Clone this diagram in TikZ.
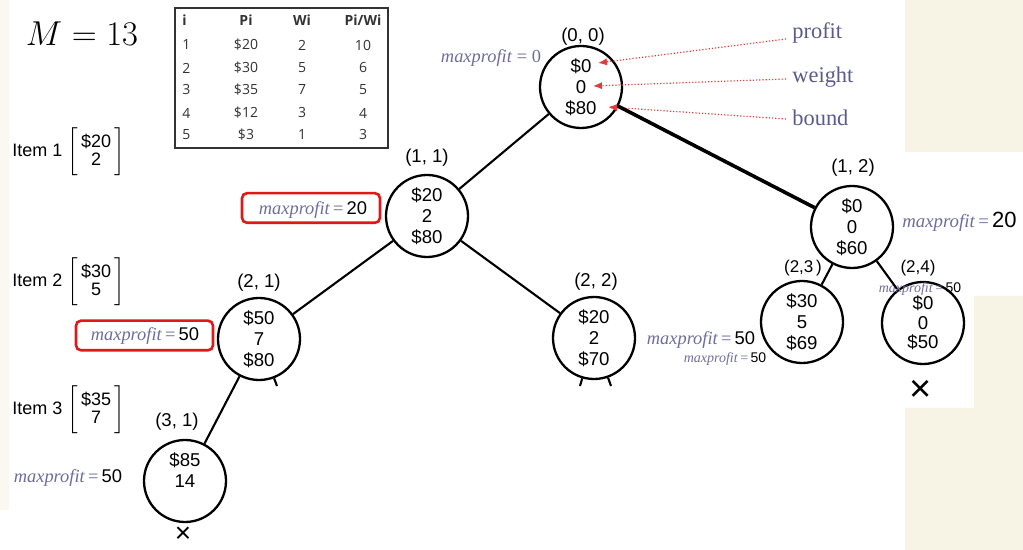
\documentclass[tikz,border=0pt]{standalone}
\usepackage{fontspec}
\setmainfont{Liberation Serif}
\newfontfamily\sansf{Liberation Sans}
\newfontfamily\tabf{Open Sans}
\usetikzlibrary{arrows.meta}
\definecolor{cream}{HTML}{F7F4E6}
\definecolor{mpcol}{HTML}{6E6E9E}
\definecolor{annc}{HTML}{5A5A8C}
\definecolor{redar}{HTML}{E23B3B}
\definecolor{boxred}{HTML}{E01818}
\definecolor{tabtxt}{HTML}{333333}
\newcommand\mxp[1]{\textit{maxprofit}\,=\,\textcolor{black}{\sansf #1}}
\tikzset{
  bbnode/.style={circle, draw, line width=1.15pt, minimum size=41pt, inner sep=0pt,
    font=\sansf\fontsize{9.3}{10.6}\selectfont, align=center},
  poslbl/.style={font=\sansf\fontsize{9.3}{11}\selectfont, inner sep=0pt},
  mp/.style={font=\fontsize{9.2}{11}\selectfont, text=mpcol, inner sep=0pt},
  mpsmall/.style={font=\fontsize{7}{8}\selectfont, text=mpcol, inner sep=0pt},
  edge/.style={line width=1.05pt},
  thickedge/.style={line width=1.8pt},
  annot/.style={draw=redar, densely dotted, line width=0.6pt, -{Latex[length=4.5pt,width=3.6pt]}},
  annotlbl/.style={font=\fontsize{11.2}{13}\selectfont, text=annc, inner sep=0pt, anchor=west},
  redbox/.style={draw=boxred, line width=1.3pt, rounded corners=2.5pt, minimum height=14.8pt, inner sep=0pt},
  itemlbl/.style={font=\sansf\fontsize{9}{11}\selectfont, inner sep=0pt, anchor=west},
  tabcell/.style={font=\tabf\fontsize{7}{8}\selectfont, text=tabtxt, inner sep=0pt},
  crossmark/.style={font=\sansf, inner sep=0pt}
}
\begin{document}
\begin{tikzpicture}[x=0.5pt,y=-0.5pt]
\useasboundingbox (0,0) rectangle (1023,550);
\fill[white] (0,0) rectangle (1023,550);
% cream background pieces
\fill[cream] (905,0) rectangle (1023,152);
\fill[cream] (974,296) -- (1023,296) -- (1023,550) -- (905,550) -- (905,408) -- (974,408) -- cycle;
\fill[cream!60] (0,0) rectangle (9,510);

% M = 13
\node[inner sep=0pt, font=\fontsize{17}{20}\selectfont] (mval) at (82,34) {$M = 13$};

% table
\node[draw=tabtxt, line width=0.6pt, minimum width=106.5pt, minimum height=70pt, inner sep=0pt] (tbl) at (281.5,78) {};
\node[tabcell, font=\tabf\bfseries\fontsize{7}{8}\selectfont, anchor=west] (th0) at (182,20) {i};
\node[tabcell, font=\tabf\bfseries\fontsize{7}{8}\selectfont] (th1) at (246,20) {Pi};
\node[tabcell, font=\tabf\bfseries\fontsize{7}{8}\selectfont] (th2) at (302,20) {Wi};
\node[tabcell, font=\tabf\bfseries\fontsize{7}{8}\selectfont] (th3) at (363,20) {Pi/Wi};
\foreach \i/\p/\w/\r/\yy in {1/20/2/10/45, 2/30/5/6/68, 3/35/7/5/90, 4/12/3/4/113, 5/3/1/3/135}{
  \node[tabcell, anchor=west] (ti\i) at (182,\yy) {\i};
  \node[tabcell] (tp\i) at (246,\yy) {\$\p};
  \node[tabcell] (tw\i) at (302,\yy) {\w};
  \node[tabcell] (tr\i) at (363,\yy) {\r};
}

% items
\node[itemlbl] (item1) at (12,152) {Item 1 $\left[\begin{array}{@{\,}c@{\,}}\mbox{\sansf\$20}\\[-2pt] \mbox{\sansf 2}\end{array}\right]$};
\node[itemlbl] (item2) at (12,282) {Item 2 $\left[\begin{array}{@{\,}c@{\,}}\mbox{\sansf\$30}\\[-2pt] \mbox{\sansf 5}\end{array}\right]$};
\node[itemlbl] (item3) at (12,410) {Item 3 $\left[\begin{array}{@{\,}c@{\,}}\mbox{\sansf\$35}\\[-2pt] \mbox{\sansf 7}\end{array}\right]$};

% nodes
\node[bbnode] (root) at (581,87) {\$0\\0\\\$80};
\node[poslbl] (l00) at (583,37) {(0, 0)};
\node[mp] (mp0) at (491,58) {\textit{maxprofit} = 0};

\node[bbnode] (n11) at (427,216) {\$20\\2\\\$80};
\node[poslbl] (l11) at (427,158) {(1, 1)};
\node[redbox, minimum width=69pt] (box11) at (311,208) {};
\node[mp] (mp11) at (313,210) {\mxp{20}};

\node[bbnode] (n21) at (259,339) {\$50\\7\\\$80};
\node[poslbl] (l21) at (259,283) {(2, 1)};
\node[redbox, minimum width=68.5pt] (box21) at (144.5,335.5) {};
\node[mp] (mp21) at (145,336) {\mxp{50}};

\node[bbnode] (n22) at (594,338) {\$20\\2\\\$70};
\node[poslbl] (l22) at (596,282) {(2, 2)};

\node[bbnode] (n12) at (852,227) {\$0\\0\\\$60};
\node[poslbl] (l12) at (853,168) {(1, 2)};
\node[mp, anchor=west, font=\fontsize{9.4}{11}\selectfont] (mp12) at (902,222) {\textit{maxprofit}\,=\,\textcolor{black}{\sansf\fontsize{11}{12}\selectfont 20}};

\node[bbnode] (n23) at (802,322) {\$30\\5\\\$69};
\node[poslbl, font=\sansf\fontsize{8.5}{10}\selectfont] (l23) at (803,268) {(2,3\,)};
\node[mp] (mp23a) at (701,340) {\mxp{50}};
\node[mpsmall] (mp23b) at (725,359) {\mxp{50}};

\node[bbnode, font=\sansf\fontsize{9.3}{9.8}\selectfont] (n24) at (923,323) {\$0\\0\\\$50};
\node[poslbl, font=\sansf\fontsize{8.5}{10}\selectfont] (l24) at (918,268) {(2,4)};
\node[mpsmall] (mp24) at (920,289) {\mxp{50}};
\node[crossmark, font=\sansf\fontsize{19}{20}\selectfont] (x24) at (921,391) {×};

\node[bbnode] (n31) at (185,481) {\$85\\14\\~};
\node[poslbl] (l31) at (177,422) {(3, 1)};
\node[mp] (mp31) at (68,478) {\mxp{50}};
\node[crossmark, font=\sansf\fontsize{14}{15}\selectfont] (x31) at (183,535) {×};

% annotations
\node[annotlbl] (lprofit) at (792,33) {profit};
\node[annotlbl] (lweight) at (792,77) {weight};
\node[annotlbl] (lbound) at (792,118) {bound};
\coordinate (pprofit) at (598,63);
\coordinate (pweight) at (593,86);
\coordinate (pbound) at (608,107);
\draw[annot] ([xshift=-3pt,yshift=-3pt]lprofit.west) -- (pprofit);
\draw[annot] ([xshift=-3pt,yshift=-1pt]lweight.west) -- (pweight);
\draw[annot] ([xshift=-3pt,yshift=-0.5pt]lbound.west) -- (pbound);

% edges
\draw[edge] (root) -- (n11);
\draw[thickedge] (root) -- (n12);
\draw[edge] (n11) -- (n21);
\draw[edge] (n11) -- (n22);
\draw[edge] (n21) -- (n31);
\draw[edge] (n12) -- (n23);
\coordinate (e24) at (897,289);
\draw[edge] (n12) -- (e24);
% truncated stubs
\coordinate (s21) at (277,386);
\coordinate (s22a) at (580,386);
\coordinate (s22b) at (611,386);
\draw[edge] (n21) -- (s21);
\draw[edge] (n22) -- (s22a);
\draw[edge] (n22) -- (s22b);
\end{tikzpicture}
\end{document}
